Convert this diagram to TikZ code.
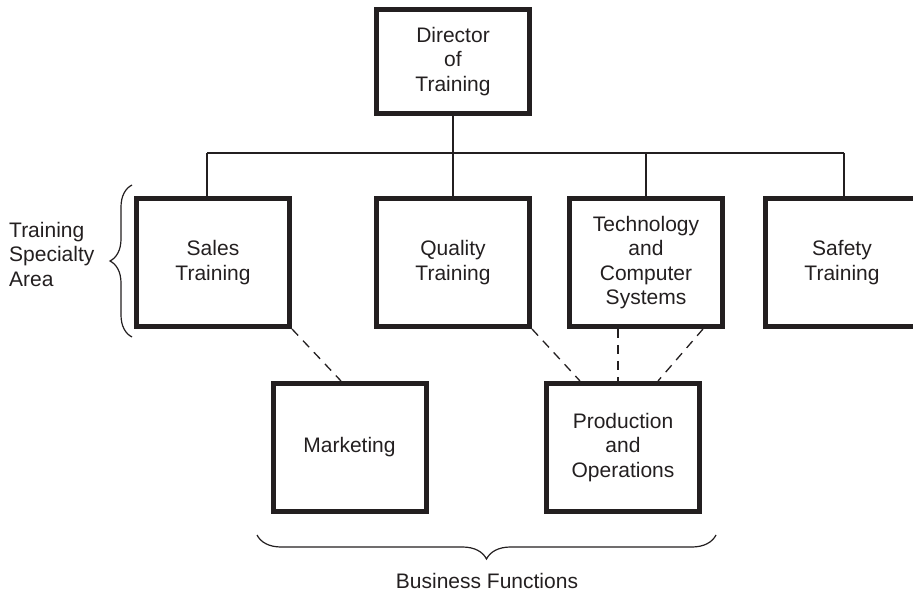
\documentclass[tikz,border=0pt]{standalone}
\usepackage{fontspec}
\setmainfont{Liberation Sans}
\usetikzlibrary{decorations.pathreplacing,calc}
\definecolor{ink}{RGB}{35,31,32}
\begin{document}
\begin{tikzpicture}[x=1pt,y=-1pt,
  txt/.style={text=ink, font=\fontsize{21}{24.5}\selectfont},
  box/.style={txt, draw=ink, line width=5pt, minimum width=153pt, minimum height=128pt, align=center, inner sep=0pt},
  thinline/.style={draw=ink, line width=1.3pt},
  dashlink/.style={draw=ink, line width=1.3pt, dash pattern=on 9pt off 7pt},
  lbl/.style={txt, inner sep=0pt},
  brc/.style={draw=ink, line width=1.2pt, decorate, decoration={brace, amplitude=#1}}
]
\useasboundingbox (0,0) rectangle (913,593);
\clip (0,0) rectangle (913,593);

% boxes
\node[box, minimum height=104pt] (dir) at (453,61.5) {Director\\of\\Training};
\node[box] (sales)   at (213,262.5) {Sales\\Training};
\node[box] (quality) at (453,262.5) {Quality\\Training};
\node[box] (tech)    at (646,262.5) {Technology\\and\\Computer\\Systems};
\node[box] (safety)  at (842,262.5) {Safety\\Training};
\node[box] (mkt)     at (349.5,447.5) {Marketing};
\node[box] (prod)    at (623,447.5) {Production\\and\\Operations};

% solid tree
\coordinate (busL) at (207,153);
\coordinate (busR) at (844,153);
\draw[thinline] (dir.south) -- (quality.north);
\draw[thinline] (busL) -- (busR);
\draw[thinline] (busL) -- (busL |- sales.north);
\draw[thinline] (tech.north |- busL) -- (tech.north);
\draw[thinline] (busR) -- (busR |- safety.north);

% dashed links
\coordinate (pv) at ($(prod.north)+(-5,0)$);
\draw[dashlink] (sales.south east) -- ($(mkt.north)+(-8.5,0)$);
\draw[dashlink] (quality.south east) -- ($(prod.north)+(-43,0)$);
\draw[dashlink] (pv |- tech.south) -- (pv);
\draw[dashlink] ($(tech.south)+(57,0)$) -- ($(prod.north)+(35,0)$);

% braces
\coordinate (bt) at (132,185);
\coordinate (bb) at (132,337);
\draw[brc=22pt] (bb) -- (bt);
\coordinate (fl) at (257,535);
\coordinate (fr) at (716,535);
\draw[brc=24pt] (fr) -- (fl);

% labels
\node[lbl, anchor=west, align=left] (tsa) at (9,254) {Training\\Specialty\\Area};
\node[lbl] (bf) at (487,581) {Business Functions};
\end{tikzpicture}
\end{document}
